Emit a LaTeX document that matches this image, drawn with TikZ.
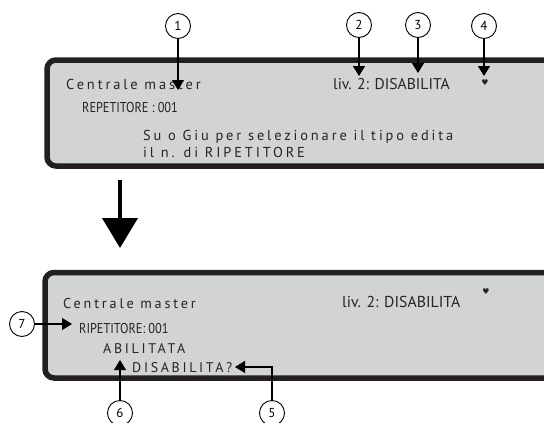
\documentclass[tikz,border=0pt]{standalone}
\usepackage{fontspec}
\setmainfont{PT Sans}
\newfontfamily\lcdwide[LetterSpace=20]{PT Sans}
\newfontfamily\lcdcaps[LetterSpace=19]{PT Sans}
\newfontfamily\lcdnarrow[FakeStretch=0.86]{PT Sans}
\newfontfamily\symfont{DejaVu Sans}
\usetikzlibrary{arrows.meta}
\definecolor{lcdgray}{HTML}{D1D3D4}
\definecolor{framedark}{HTML}{231F20}
\definecolor{inkgray}{HTML}{262425}
\tikzset{
  lcdbox/.style={draw=framedark,line width=5.5pt,fill=lcdgray,rounded corners=9pt},
  lcdtext/.style={anchor=base west,inner sep=0pt,text=inkgray},
  callout/.style={circle,draw,line width=0.9pt,fill=white,minimum size=25pt,inner sep=0pt,font=\fontsize{13}{13}\selectfont},
  pointer/.style={line width=1.1pt,-{Triangle[length=10pt,width=12pt]}},
}
\begin{document}
\begin{tikzpicture}[x=1pt,y=-1pt]
\useasboundingbox (0,0) rectangle (544,423);
\clip (0,0) rectangle (544,423);
% display before
\draw[lcdbox] (47,60) rectangle (620,166);
\node[lcdtext,font=\lcdwide\fontsize{14.4}{14.4}\selectfont] (mA) at (66,89) {Centrale master};
\node[lcdtext,font=\lcdnarrow\fontsize{14.3}{14.3}\selectfont] (rA) at (82,112) {REPETITORE : 001};
\node[lcdtext,font=\fontsize{15.6}{15.6}\selectfont] (lvA) at (333,89) {liv. 2: DISABILITA};
\node[inner sep=0pt,font=\symfont\fontsize{8}{8}\selectfont,text=inkgray] (hA) at (485,83) {♥};
\node[lcdtext,font=\lcdwide\fontsize{14.4}{14.4}\selectfont] (sA) at (143,140) {Su o Giu per selezionare il tipo edita};
\node[lcdtext,font=\lcdwide\fontsize{14.4}{14.4}\selectfont] (nA) at (143,157) {il n. di RIPETITORE};
% callouts 1-4
\node[callout] (c1) at (178,26) {1};
\node[callout] (c2) at (359,25) {2};
\node[callout] (c3) at (418,25) {3};
\node[callout] (c4) at (484,26) {4};
\coordinate (t1) at (178,90);
\coordinate (t2) at (359,76);
\coordinate (t3) at (418,73);
\coordinate (t4) at (484,76);
\foreach \i in {1,...,4}{\draw[pointer] (c\i) -- (t\i);}
% big arrow
\coordinate (bigtop) at (120,180);
\coordinate (bigtip) at (120,248);
\draw[line width=4pt,-{Triangle[length=30pt,width=35pt]}] (bigtop) -- (bigtip);
% display after
\draw[lcdbox] (45,272.5) rectangle (620,378);
\node[lcdtext,font=\lcdwide\fontsize{14.2}{14.2}\selectfont] (mB) at (63,308) {Centrale master};
\node[lcdtext,font=\lcdnarrow\fontsize{14.3}{14.3}\selectfont] (rB) at (79,333) {RIPETITORE: 001};
\node[lcdtext,font=\fontsize{15.8}{15.8}\selectfont] (lvB) at (342,307) {liv. 2: DISABILITA};
\node[inner sep=0pt,font=\symfont\fontsize{8}{8}\selectfont,text=inkgray] (hB) at (486,292) {♥};
\node[lcdtext,font=\lcdcaps\fontsize{14}{14}\selectfont] (aB) at (103,353) {ABILITATA};
\node[lcdtext,font=\lcdcaps\fontsize{14}{14}\selectfont] (dB) at (132,372) {DISABILITA?};
% callouts 5-7
\node[callout] (c7) at (22,324) {7};
\node[callout] (c6) at (120,413) {6};
\node[callout] (c5) at (272,413) {5};
\coordinate (t7) at (72,324);
\coordinate (t6) at (120,360);
\coordinate (t5) at (235,367);
\draw[pointer] (c7) -- (t7);
\draw[pointer] (c6) -- (t6);
\draw[pointer] (c5.north) |- (t5);
\end{tikzpicture}
\end{document}
